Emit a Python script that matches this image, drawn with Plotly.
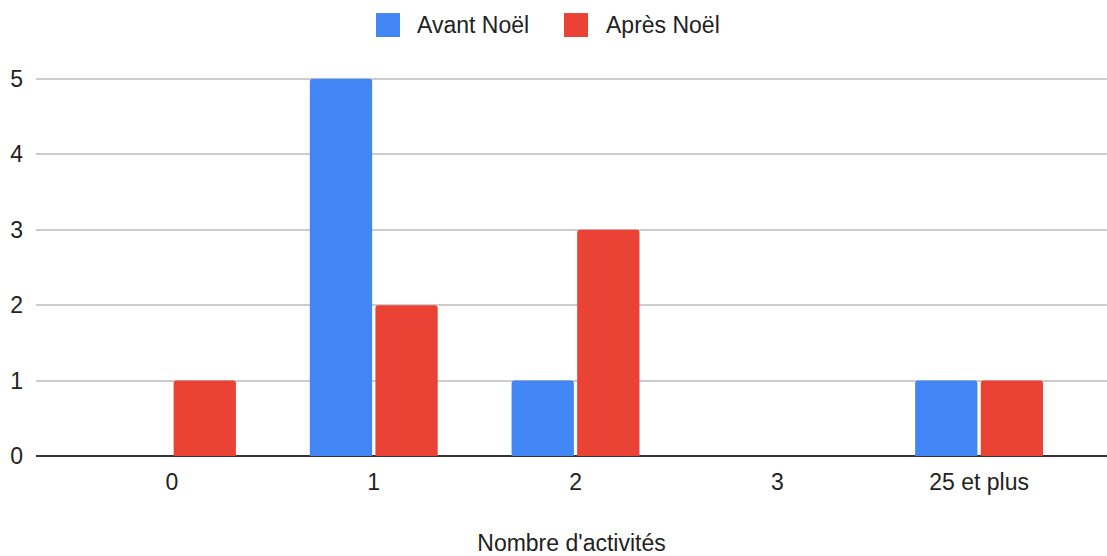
"""
Histogramme groupé : nombre d'activités avant / après Noël
"""
import plotly.graph_objects as go

categories = ["0", "1", "2", "3", "25 et plus"]
avant_noel = [0, 5, 1, 0, 1]
apres_noel = [1, 2, 3, 0, 1]
y_ticks = [0, 1, 2, 3, 4, 5]

BLUE = "#4285F4"
RED = "#EA4335"
FONT = "Liberation Sans, Arial, sans-serif"

fig = go.Figure()
fig.add_trace(go.Bar(x=categories, y=avant_noel, name="Avant Noël",
                     marker=dict(color=BLUE, cornerradius=3, line=dict(width=0))))
fig.add_trace(go.Bar(x=categories, y=apres_noel, name="Après Noël",
                     marker=dict(color=RED, cornerradius=3, line=dict(width=0))))

# plot area in pixels: x 36..1107, y 60..456.5
L, R, T, B = 36, 0, 60, 99.5
W, H = 1107, 556
pw, ph = W - L - R, H - T - B


def px(x):
    return (x - L) / pw


def py(y):
    return (H - B - y) / ph


# custom legend (big squares like the original)
for x0, x1, tx, label, col in [(376, 400, 415, "Avant Noël", BLUE),
                               (564, 588, 604, "Après Noël", RED)]:
    fig.add_shape(type="rect", xref="paper", yref="paper",
                  x0=px(x0), x1=px(x1), y0=py(37), y1=py(13),
                  fillcolor=col, line=dict(width=0))
    fig.add_annotation(text=label, xref="paper", yref="paper",
                       x=px(tx), y=py(25), xanchor="left", yanchor="middle",
                       showarrow=False, font=dict(size=23, color="#222222"))

fig.update_layout(
    width=W, height=H,
    barmode="group", bargap=0.35, bargroupgap=0.05,
    showlegend=False,
    paper_bgcolor="white", plot_bgcolor="white",
    font=dict(family=FONT, size=23, color="#222222"),
    margin=dict(l=L, r=R, t=T, b=B, autoexpand=False),
    xaxis=dict(
        type="category", range=[-0.674, 4.634],
        showgrid=False, showline=False, ticks="",
        ticklabelstandoff=10,
        title=dict(text="Nombre d'activités", standoff=47,
                   font=dict(size=23, color="#222222")),
    ),
    yaxis=dict(
        range=[0, 5.25], tickvals=y_ticks,
        showgrid=True, gridcolor="#cccccc", gridwidth=1.5,
        zeroline=True, zerolinecolor="#333333", zerolinewidth=1.5,
        showline=False, ticks="", ticklabelstandoff=12,
    ),
)

fig.write_html("out.html", config={"displayModeBar": False},
               post_script="document.body.style.margin='0';document.body.style.overflow='hidden';")
